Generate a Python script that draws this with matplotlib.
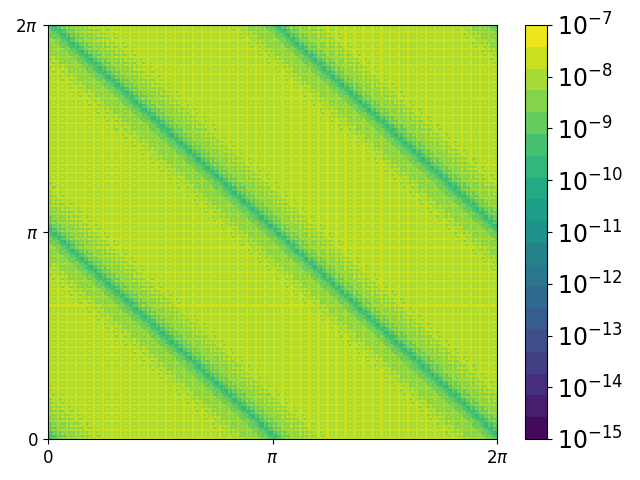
import matplotlib
matplotlib.use('Agg')
import matplotlib.pyplot as plt
from matplotlib.colors import LogNorm, ListedColormap
import numpy as np

# log10 level read across one stripe, one block (two cells) at a time
profile = [-9.5, -9.0, -8.7, -8.5, -8.35, -8.25, -8.17, -8.11, -8.06, -8.01,
           -7.97, -7.94, -7.91, -7.88, -7.86, -7.84, -7.82, -7.8, -7.79, -7.78,
           -7.77, -7.76, -7.76, -7.75, -7.75, -7.75, -7.75, -7.75, -7.76, -7.76,
           -7.77, -7.78, -7.79, -7.8, -7.82, -7.84, -7.86, -7.88, -7.91, -7.94,
           -7.97, -8.01, -8.06, -8.11, -8.17, -8.25, -8.35, -8.5, -8.7, -9.0]
# ring pattern on top of the stripes, repeats every four cells
tile = [[0.3, 0.15, 0.3, 0.1],
        [0.2, -0.25, -0.35, -0.25],
        [0.3, -0.25, 0.25, -0.2],
        [0.1, -0.35, -0.2, -0.25]]
tick_labels = ['0', r'$\pi$', r'$2\pi$']
cbar_ticks = [1e-15, 1e-14, 1e-13, 1e-12, 1e-11, 1e-10, 1e-9, 1e-8, 1e-7]

n = 200
edges = np.linspace(0, 2 * np.pi, n + 1)
z = np.zeros((n, n))
for i in range(n):
    for j in range(n):
        z[i, j] = 10 ** (profile[(i // 2 + j // 2) % 50] + tile[i % 4][j % 4])

fig = plt.figure(figsize=(6.4, 4.8), dpi=100)
ax = fig.add_axes([48 / 640, 1 - 439 / 480, 449 / 640, 414 / 480])
cax = fig.add_axes([525 / 640, 1 - 439 / 480, 22 / 640, 414 / 480])

# 19 flat bands between 1e-15 and 1e-7
cmap = ListedColormap(plt.get_cmap('viridis')((np.arange(19) + 0.5) / 19))
mesh = ax.pcolormesh(edges, edges, z, norm=LogNorm(1e-15, 1e-7), cmap=cmap)
ax.set_xticks([0, np.pi, 2 * np.pi])
ax.set_xticklabels(tick_labels)
ax.set_yticks([0, np.pi, 2 * np.pi])
ax.set_yticklabels(tick_labels)
ax.tick_params(labelsize=12)

cbar = fig.colorbar(mesh, cax=cax)
cbar.set_ticks(cbar_ticks)
cbar.minorticks_off()
cbar.ax.tick_params(labelsize=17)

plt.savefig('out.png', dpi=100)
